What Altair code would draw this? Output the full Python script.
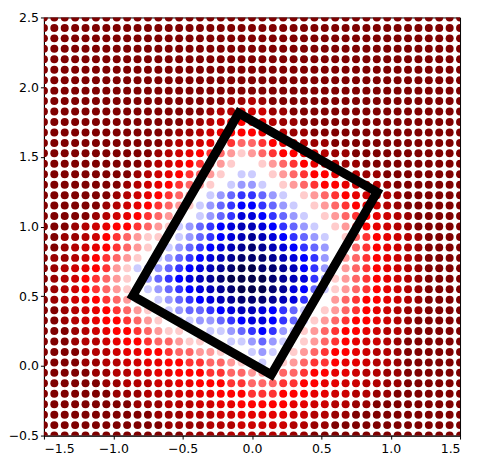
import altair as alt
import pandas as pd

# Grid of sample points (41 x 41) covering the axes range
X_START, X_STEP, N_COLS = -1.5, 0.075, 41
Y_START, Y_STEP, N_ROWS = 2.5, -0.075, 41

# Colour level of every dot, read row by row from the top (y = 2.5) down.
# 'A' = -1.0 (navy) ... 'K' = 0 (white) ... 'U' = +1.0 (dark red), steps of 0.1
ROWS = [
    "UUUUUUUUUU" "UUUUUUUUUU" "UUUUUUUUUU" "UUUUUUUUUU" "U",
    "UUUUUUUUUU" "UUUUUUUUUU" "UUUUUUUUUU" "UUUUUUUUUU" "U",
    "UUUUUUUUUU" "UUUUUUUUUU" "UUUUUUUUUU" "UUUUUUUUUU" "U",
    "UUUUUUUUUU" "UUUUUUUUUU" "UUUUUUUUUU" "UUUUUUUUUU" "U",
    "UUUUUUUUUU" "UUUUUUUUUU" "UUUUUUUUUU" "UUUUUUUUUU" "U",
    "UUUUUUUUUU" "UUUUUUUUUU" "UUUUUUUUUU" "UUUUUUUUUU" "U",
    "UUUUUUUUUU" "UUUUUUUUUU" "UUUUUUUUUU" "UUUUUUUUUU" "U",
    "UUUUUUUUUU" "UUUUUUUUUU" "UUUUUUUUUU" "UUUUUUUUUU" "U",
    "UUUUUUUUUU" "UUUUUUUU" "TTST" "UUUUUUUUUU" "UUUUUUUUU",
    "UUUUUUUUUU" "UUUUUU" "TSSRRRTT" "UUUUUUUUUU" "UUUUUUU",
    "UUUUUUUUUU" "UUUU" "TTSRQPPQSTT" "UUUUUUUUUU" "UUUUUU",
    "UUUUUUUUUU" "UUU" "TTSRQPPPQRSTT" "UUUUUUUUUU" "UUUUU",
    "UUUUUUUUUU" "UU" "TSSRQPONNOPQRSTT" "UUUUUUUUUU" "UUU",
    "UUUUUUUUUU" "U" "TSRQPONML" "M" "NOPPQRSTT" "UUUUUUUUUU" "U",
    "UUUUUUUUUU" "TSRQPONMLK" "K" "LMNOPQRSTT" "UUUUUUUUUU",
    "UUUUUUUUU" "TSRQPONMLKJ" "J" "KLMNOPPQRSTT" "UUUUUUUU",
    "UUUUUUUU" "TSRQPONMLKJI" "I" "JKLMNOPPQRSST" "UUUUUUU",
    "UUUUUUU" "TSRQPONM" "KJIHG" "G" "HIJKLMNOPQRSST" "UUUUUU",
    "UUUUUU" "TSRQPONML" "JIHGF" "F" "GHIJKLMNOPQRST" "UUUUUU",
    "UUUUU" "TSRQPONMLK" "JIHGE" "E" "FGHIJKLMNOPQRST" "UUUUU",
    "UUU" "TSRQPPONMLJIHGFED" "D" "EFGHIJKLMNPQRST" "UUUUU",
    "UU" "TTSRPONMLLK" "JIHGFED" "C" "DEFGHIJKLNOPQRST" "UUUU",
    "UU" "TSRQPONMLK" "JIHGFEDC" "B" "CDEFGHIKLNOPQRST" "UUUU",
    "U" "TTSRPONMLK" "JIHGFEDCB" "B" "BCDEFGIKMNOPQRST" "UUUU",
    "U" "TSRQPOMLJ" "IIHGFEDCBA" "A" "BBCDFGIKMNOPQRST" "UUUU",
    "U" "TSRPONMLK" "IHGFEDCBAA" "A" "ABCDEGILMNOPQRST" "UUUU",
    "U" "TSRPONMLK" "JIHGFEDCBA" "A" "ABCEFHJLMNOPQRST" "UUUU",
    "U" "TSRQPONML" "KJIHGFEDCB" "B" "BCDEGIKMNOPPQRST" "UUUU",
    "UU" "TSRQPONML" "KJIHHGFED" "D" "EFGHJKLMNOPQRSTT" "UUUU",
    "UU" "TSRQPPONMLK" "JJIIHGF" "E" "EFGHJLMNOPPQRST" "UUUUU",
    "UUU" "TSRQPPONMLL" "KKJJIH" "G" "FGIJLMNOPPQRSST" "UUUUU",
    "UUU" "TSSRQPPONNMLL" "KKJJ" "I" "HIJKLMNOPQRRST" "UUUUUU",
    "UUUU" "TSSRQQPPONNMML" "LK" "J" "IJKLMNOPPQRSST" "UUUUUU",
    "UUUU" "TTSSRRQQPPOONNML" "K" "JKLMNOOPQQRSST" "UUUUUU",
    "UUUUU" "TTSSRRQQPPPOONN" "M" "MMNNOPPQQRSSTT" "UUUUUU",
    "UUUUUU" "TTSSSRRQQPPPOO" "N" "NNOOPPQQRRSSTT" "UUUUUU",
    "UUUUUUU" "TTTSSSRRQQPPP" "O" "OOPPPQQRRSSTT" "UUUUUUU",
    "UUUUUUUUU" "TTTSSSRRQQP" "P" "PPPQQRRSSTT" "UUUUUUUUU",
    "UUUUUUUUUU" "U" "TTTSSSRRQ" "Q" "QQQRRSSTT" "UUUUUUUUUU" "U",
    "UUUUUUUUUU" "UU" "TTTTSSSR" "R" "RRRSSTT" "UUUUUUUUUU" "UUU",
    "UUUUUUUUUU" "UUUU" "TTTTSS" "S" "SSSTT" "UUUUUUUUUU" "UUUUU",
]

# Rotated rectangle (corner coordinates)
POLY_X = [-0.096, 0.902, 0.139, -0.859]
POLY_Y = [1.813, 1.247, -0.063, 0.503]

X_TICKS = [-1.5, -1.0, -0.5, 0.0, 0.5, 1.0, 1.5]
Y_TICKS = [-0.5, 0.0, 0.5, 1.0, 1.5, 2.0, 2.5]

# seismic colormap stops
CMAP_DOMAIN = [-1.0, -0.5, 0.0, 0.5, 1.0]
CMAP_RANGE = ["#00004c", "#0000ff", "#ffffff", "#ff0000", "#7f0000"]

assert len(ROWS) == N_ROWS
recs = []
for j, row in enumerate(ROWS):
    assert len(row) == N_COLS, (j, len(row))
    for i, ch in enumerate(row):
        recs.append({
            "x": X_START + i * X_STEP,
            "y": Y_START + j * Y_STEP,
            "v": (ord(ch) - ord("K")) / 10.0,
        })
df = pd.DataFrame(recs)
poly_df = pd.DataFrame({"x": POLY_X, "y": POLY_Y, "k": list(range(len(POLY_X)))})

MINUS_EXPR = "replace(datum.label, '-', '\u2212')"

xscale = alt.Scale(domain=[-1.5, 1.5], nice=False, zero=False)
yscale = alt.Scale(domain=[-0.5, 2.5], nice=False, zero=False)
xaxis = alt.Axis(values=X_TICKS, format=".1f", title=None, labelExpr=MINUS_EXPR,
                 labelPadding=3.5)
yaxis = alt.Axis(values=Y_TICKS, format=".1f", title=None, labelExpr=MINUS_EXPR,
                 labelPadding=2)

points = alt.Chart(df).mark_circle(size=64, opacity=1, clip=True).encode(
    x=alt.X("x:Q", scale=xscale, axis=xaxis),
    y=alt.Y("y:Q", scale=yscale, axis=yaxis),
    color=alt.Color("v:Q", scale=alt.Scale(domain=CMAP_DOMAIN, range=CMAP_RANGE,
                                           interpolate="rgb"), legend=None),
)

poly = alt.Chart(poly_df).mark_line(
    color="black", strokeWidth=9, interpolate="linear-closed",
    strokeJoin="miter", clip=True,
).encode(
    x=alt.X("x:Q", scale=xscale, axis=xaxis),
    y=alt.Y("y:Q", scale=yscale, axis=yaxis),
    order="k:Q",
)

chart = alt.layer(points, poly).properties(
    width=417, height=419,
    autosize=alt.AutoSizeParams(type="none"),
    padding={"left": 36, "top": 9, "right": 20, "bottom": 28},
).configure_view(
    stroke="black", strokeWidth=1,
).configure_axis(
    grid=False,
    domainColor="black", domainWidth=1,
    tickColor="black", tickSize=3.5, tickWidth=1,
    labelFont="DejaVu Sans", labelFontSize=12.5, labelColor="black",
)

chart.save("out.html", embed_options={"renderer": "svg", "actions": False})
